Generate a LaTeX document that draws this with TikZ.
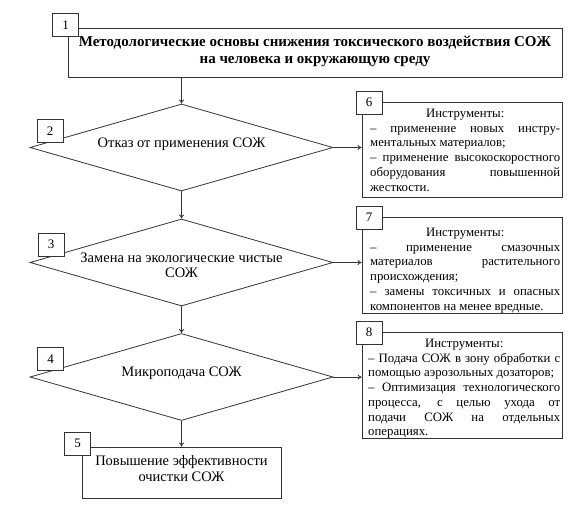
\documentclass[tikz,border=0pt]{standalone}
\usepackage{fontspec}
\setmainfont{Liberation Serif}
\usetikzlibrary{shapes.geometric,arrows.meta}
\newcommand\jl[1]{\makebox[190pt][s]{#1}}
\newcommand\cl[1]{\makebox[190pt]{#1}}
\begin{document}
\begin{tikzpicture}[x=1pt,y=-1pt,
  ln/.style={draw=black!80,line width=0.8pt},
  box/.style={ln,rectangle,inner sep=0pt},
  dia/.style={ln,diamond,inner sep=0pt,minimum width=303pt,minimum height=87pt},
  numbox/.style={ln,rectangle,fill=white,minimum width=26pt,minimum height=23pt,inner sep=0pt,font=\fontsize{13}{15}\selectfont},
  arr/.style={ln,-{To[length=4pt,width=5pt]}},
  maintxt/.style={inner sep=0pt,align=center,font=\fontsize{14.5}{16}\selectfont},
  tooltxt/.style={inner sep=0pt,align=left,anchor=north west,font=\fontsize{12.8}{14.7}\selectfont}]
\useasboundingbox (0,0) rectangle (574,517);
\fill[white] (0,0) rectangle (574,517);
% main blocks
\node[box,minimum width=494pt,minimum height=49pt] (b1) at (315,52.5) {};
\node[inner sep=0pt,align=center,font=\fontsize{15}{17}\selectfont\bfseries] (t1) at (315,51)
  {Методологические основы снижения токсического воздействия СОЖ\\на человека и окружающую среду};
\node[dia] (d2) at (181.5,147.5) {};
\node[maintxt] (t2) at (181.5,144) {Отказ от применения СОЖ};
\node[dia] (d3) at (181.5,262.5) {};
\node[maintxt,font=\fontsize{14.5}{15}\selectfont] (t3) at (181.5,265) {Замена на экологические чистые\\СОЖ};
\node[dia] (d4) at (181.5,377) {};
\node[maintxt] (t4) at (181.5,373) {Микроподача СОЖ};
\node[box,minimum width=199pt,minimum height=51pt] (b5) at (181.5,472.5) {};
\node[maintxt] (t5) at (181.5,469) {Повышение эффективности\\очистки СОЖ};
% tool boxes
\node[box,minimum width=200pt,minimum height=95pt] (b6) at (462,149.5) {};
\node[tooltxt] (t6) at (370,109) {\cl{Инструменты:}\\
  \jl{– применение новых инстру-}\\
  ментальных материалов;\\
  \jl{– применение высокоскоростного}\\
  \jl{оборудования повышенной}\\
  жесткости.};
\node[box,minimum width=200pt,minimum height=96pt] (b7) at (462,265) {};
\node[tooltxt] (t7) at (370,228) {\cl{Инструменты:}\\
  \jl{– применение смазочных}\\
  \jl{материалов растительного}\\
  происхождения;\\
  \jl{– замены токсичных и опасных}\\
  компонентов на менее вредные.};
\node[box,minimum width=200pt,minimum height=106pt] (b8) at (462,385) {};
\node[tooltxt] (t8) at (368,339) {\makebox[192pt]{Инструменты:}\\
  \makebox[192pt][s]{– Подача СОЖ в зону обработки с}\\
  помощью аэрозольных дозаторов;\\
  \makebox[192pt][s]{– Оптимизация технологического}\\
  \makebox[192pt][s]{процесса, с целью ухода от}\\
  \makebox[192pt][s]{подачи СОЖ на отдельных}\\
  операциях.};
% connectors
\draw[arr] (b1.south -| d2.north) -- (d2.north);
\draw[arr] (d2.south) -- (d3.north);
\draw[arr] (d3.south) -- (d4.north);
\draw[arr] (d4.south) -- (b5.north);
\draw[arr] (d2.east) -- (d2.east -| b6.west);
\draw[arr] (d3.east) -- (d3.east -| b7.west);
\draw[arr] (d4.east) -- (d4.east -| b8.west);
% number labels
\node[numbox] (n1) at (65.5,25) {1};
\node[numbox] (n2) at (50,131) {2};
\node[numbox] (n3) at (51,244.5) {3};
\node[numbox] (n4) at (50.5,359) {4};
\node[numbox] (n5) at (77.5,443.5) {5};
\node[numbox] (n6) at (369,102.5) {6};
\node[numbox] (n7) at (369,217.5) {7};
\node[numbox] (n8) at (369,332.5) {8};
\end{tikzpicture}
\end{document}
